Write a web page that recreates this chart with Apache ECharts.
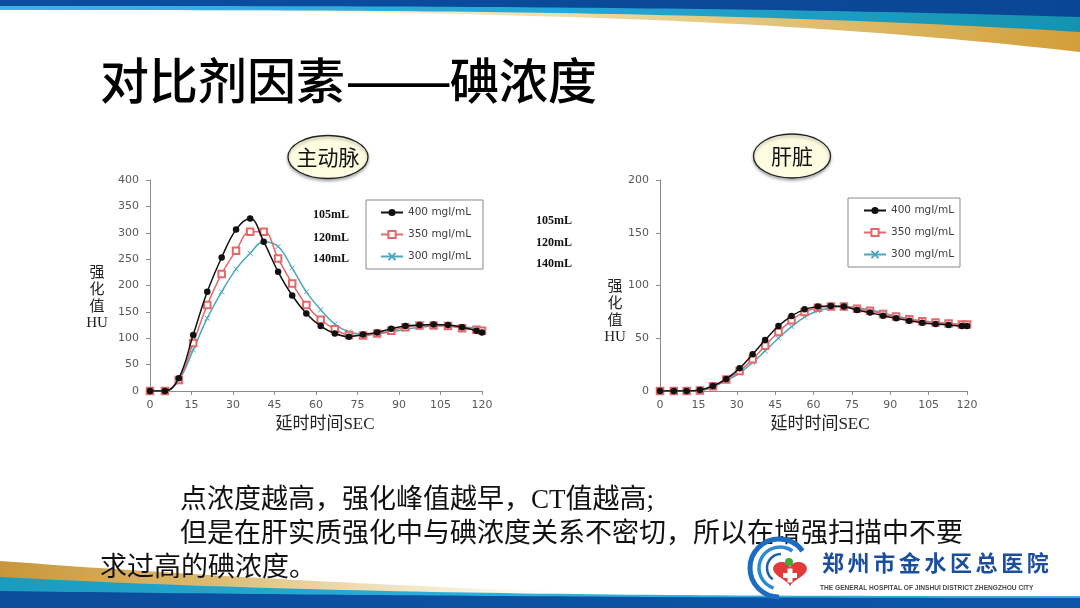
<!DOCTYPE html>
<html>
<head>
<meta charset="utf-8">
<script src="https://cdn.jsdelivr.net/npm/echarts@6/dist/echarts.min.js"></script>
<style>
  html, body { margin: 0; padding: 0; background: #fff; }
  #main { width: 1080px; height: 608px; }
</style>
</head>
<body>
<div id="main"></div>
<script>
// 延时时间 (秒) —— 两张图共用
const timeSec = [0, 5.4, 10.4, 15.6, 20.7, 25.9, 31.1, 36.2, 41.1, 46.3, 51.4, 56.5, 61.7, 66.8, 71.9, 77, 82.1, 87.2, 92.3, 97.4, 102.5, 107.7, 112.8, 118, 120]
const seriesNames = ['400 mgI/mL', '350 mgI/mL', '300 mgI/mL']
const doseLabels = ['105mL', '120mL', '140mL']

// 主动脉强化值 HU
const aorta400 = [0, 0, 24, 106, 188, 253, 306, 327, 283, 226, 181, 147, 123, 109, 103, 107, 111, 118, 123, 125, 126, 125, 121, 114, 111]
const aorta350 = [0, 0, 21, 91, 163, 222, 266, 302, 302, 251, 204, 163, 135, 117, 106, 105, 109, 114, 121, 124, 124, 123, 119, 116, 114]
const aorta300 = [0, 0, 20, 78, 138, 188, 231, 261, 283, 274, 233, 188, 154, 127, 112, 108, 109, 112, 117, 121, 123, 124, 122, 119, 117]

// 肝脏强化值 HU
const liver400 = [0, 0, 0, 1, 4.7, 11.4, 21.5, 34.8, 48.3, 61.6, 71, 77.4, 80, 80.6, 80, 76.8, 74.3, 71.4, 68.9, 66.7, 64.8, 63.5, 62.6, 61.6, 61.6]
const liver350 = [0, 0, 0, 0.5, 4.5, 11, 19, 30, 43, 56, 67, 75, 79, 80, 80, 78, 76, 73, 70.5, 68, 66, 65, 64, 63, 63]
const liver300 = [0, 0, 0, 0.3, 4, 10, 17, 27, 38, 50, 61, 70, 76, 79, 80, 79, 77, 74, 71, 68.5, 66.5, 65, 64, 63, 62.5]

const chart = echarts.init(document.getElementById('main'))

const CJK = '"Noto Sans CJK SC", sans-serif'
const SERIF_CJK = '"Liberation Serif", "Noto Sans CJK SC", serif'
const AXIS_FONT = '"DejaVu Sans", sans-serif'

const styles = [
  { color: '#111111', symbol: 'circle', symbolSize: 6.5, borderWidth: 0 },
  { color: '#E4686A', symbol: 'emptyRect', symbolSize: 6.5, borderWidth: 1 },
  { color: '#4AA7BD', symbol: 'path://M0,0L10,10M0,10L10,0', symbolSize: 5, borderWidth: 1 }
]

const toPairs = arr => timeSec.map((t, i) => [t, arr[i]])

const makeSeries = (idx, arr, gridIdx) => ({
  name: seriesNames[idx],
  type: 'line',
  xAxisIndex: gridIdx,
  yAxisIndex: gridIdx,
  data: toPairs(arr),
  smooth: 0.4,
  symbol: styles[idx].symbol,
  symbolSize: styles[idx].symbolSize,
  lineStyle: { color: styles[idx].color, width: 1.5 },
  itemStyle: { color: styles[idx].color, borderColor: styles[idx].color, borderWidth: styles[idx].borderWidth },
  z: 10 - idx
})

const axisCommon = {
  axisLine: { show: true, lineStyle: { color: '#8c8c8c', width: 1 } },
  axisTick: { show: true, length: 4, lineStyle: { color: '#8c8c8c' } },
  splitLine: { show: false },
  axisLabel: { color: '#595959', fontSize: 11, fontFamily: AXIS_FONT }
}

const xAxisOf = (gridIdx, pad) => ({
  ...axisCommon,
  type: 'value',
  gridIndex: gridIdx,
  min: 0, max: 120, interval: 15,
  axisLabel: { ...axisCommon.axisLabel, margin: 9 },
  name: '延时时间SEC',
  nameLocation: 'middle',
  nameGap: 25,
  nameTextStyle: { fontSize: 17, color: '#222', fontFamily: SERIF_CJK, padding: [0, 0, 0, pad] }
})

const yAxisOf = (gridIdx, max) => ({
  ...axisCommon,
  type: 'value',
  gridIndex: gridIdx,
  min: 0, max: max, interval: 50,
  axisLabel: { ...axisCommon.axisLabel, margin: 11 }
})

const legendOf = (left, top, padding) => ({
  data: seriesNames,
  orient: 'vertical',
  left: left, top: top,
  padding: padding,
  itemGap: 9,
  itemWidth: 22,
  itemHeight: 9,
  borderColor: '#8a8a8a',
  borderWidth: 1,
  backgroundColor: '#fff',
  textStyle: { fontSize: 10.5, color: '#404040', fontFamily: AXIS_FONT, lineHeight: 13 }
})

// 装饰条带（页眉、页脚）
const band = (topFn, botFn) => {
  const pts = []
  for (let i = 0; i <= 60; i++) pts.push([1080 * i / 60, topFn(i / 60)])
  for (let i = 60; i >= 0; i--) pts.push([1080 * i / 60, botFn(i / 60)])
  return pts
}
const grad = stops => new echarts.graphic.LinearGradient(0, 0, 1, 0, stops.map(s => ({ offset: s[0], color: s[1] })))

const heartPts = (() => {
  const pts = []
  for (let i = 0; i < 60; i++) {
    const a = Math.PI * 2 * i / 60
    const x = 16 * Math.pow(Math.sin(a), 3)
    const y = -(13 * Math.cos(a) - 5 * Math.cos(2 * a) - 2 * Math.cos(3 * a) - Math.cos(4 * a))
    pts.push([790 + x * 1.06, 572 + y * 0.85])
  }
  return pts
})()

const hospitalName = '郑州市金水区总医院'.split('')
const titleParts = [['对比剂因素', 100, 1], ['——', 345, 1.3], ['碘浓度', 450, 1]]

const graphics = [
  // 页眉
  { type: 'polygon', silent: true, shape: { points: band(() => 0, t => 11 + 41 * t * t * t) },
    style: { fill: grad([[0, 'rgba(255,255,255,0)'], [0.3, 'rgba(246,236,200,0.7)'], [0.6, '#E8D291'], [1, '#D29E38']]) } },
  { type: 'polygon', silent: true, shape: { points: band(() => 0, t => 10 + 22 * t * t * t) },
    style: { fill: grad([[0, '#3BB3E8'], [0.5, '#27A8D6'], [1, '#1593AE']]) } },
  { type: 'polygon', silent: true, shape: { points: band(() => 0, t => 6 + 11 * t * t * t) },
    style: { fill: grad([[0, '#0B4E9E'], [1, '#0A4696']]) } },
  // 页脚
  { type: 'polygon', silent: true, shape: { points: band(t => 561 + 40 * (1 - (1 - t) * (1 - t)), () => 608) },
    style: { fill: grad([[0, '#C8963A'], [0.2, '#DDBB72'], [0.42, 'rgba(240,225,180,0.6)'], [0.56, 'rgba(255,255,255,0)'], [1, 'rgba(255,255,255,0)']]) } },
  { type: 'polygon', silent: true, shape: { points: band(t => 577 + 19 * (1 - Math.pow(1 - t, 3)), () => 608) },
    style: { fill: grad([[0, '#1A9CC0'], [0.5, '#2FB0DE'], [1, '#3AA8DA']]) } },
  { type: 'polygon', silent: true, shape: { points: band(t => 591 + 7 * (1 - (1 - t) * (1 - t)), () => 608) },
    style: { fill: grad([[0, '#0C4C9C'], [1, '#0B56A8']]) } },

  // 标题
  ...titleParts.map(p => ({ type: 'text', x: p[1], y: 80, scaleX: p[2],
    style: { text: p[0], font: '500 49px ' + CJK, fill: '#000', textVerticalAlign: 'middle' } })),

  // 椭圆标签
  { type: 'ellipse', shape: { cx: 328, cy: 157, rx: 40, ry: 21.5 },
    style: { fill: '#FDFBE0', stroke: '#222', lineWidth: 1.3, shadowBlur: 3, shadowOffsetY: 2, shadowColor: 'rgba(0,0,0,0.3)' } },
  { type: 'text', x: 328, y: 157, style: { text: '主动脉', font: '21px ' + CJK, fill: '#111', textAlign: 'center', textVerticalAlign: 'middle' } },
  { type: 'ellipse', shape: { cx: 792, cy: 156, rx: 38.5, ry: 22 },
    style: { fill: '#FDFBE0', stroke: '#222', lineWidth: 1.3, shadowBlur: 3, shadowOffsetY: 2, shadowColor: 'rgba(0,0,0,0.3)' } },
  { type: 'text', x: 792, y: 156, style: { text: '肝脏', font: '21px ' + CJK, fill: '#111', textAlign: 'center', textVerticalAlign: 'middle' } },

  // 纵轴标题
  { type: 'text', x: 97, y: 265, style: { text: '强\n化\n值\nHU', font: '15px ' + SERIF_CJK, lineHeight: 16.7, fill: '#222', textAlign: 'center' } },
  { type: 'text', x: 615, y: 279, style: { text: '强\n化\n值\nHU', font: '15px ' + SERIF_CJK, lineHeight: 16.7, fill: '#222', textAlign: 'center' } },

  // 用量标注
  ...doseLabels.map((s, i) => ({ type: 'text', x: 313, y: [215, 238, 259][i],
    style: { text: s, font: 'bold 12px "Liberation Serif", serif', fill: '#111', textVerticalAlign: 'middle' } })),
  ...doseLabels.map((s, i) => ({ type: 'text', x: 536, y: [221, 243, 264][i],
    style: { text: s, font: 'bold 12px "Liberation Serif", serif', fill: '#111', textVerticalAlign: 'middle' } })),

  // 正文
  { type: 'text', x: 180, y: 501, style: { text: '点浓度越高，强化峰值越早，CT值越高;', font: '27px ' + SERIF_CJK, fill: '#111', textVerticalAlign: 'middle' } },
  { type: 'text', x: 180, y: 535, style: { text: '但是在肝实质强化中与碘浓度关系不密切，所以在增强扫描中不要', font: '27px ' + SERIF_CJK, fill: '#111', textVerticalAlign: 'middle' } },
  { type: 'text', x: 100, y: 569, style: { text: '求过高的碘浓度。', font: '27px ' + SERIF_CJK, fill: '#111', textVerticalAlign: 'middle' } },

  // 医院标志
  { type: 'arc', shape: { cx: 779, cy: 568, r: 29, startAngle: Math.PI * 0.5, endAngle: Math.PI * 1.8 }, style: { stroke: '#1D6CC0', lineWidth: 5, fill: null } },
  { type: 'arc', shape: { cx: 780, cy: 568, r: 21, startAngle: Math.PI * 0.6, endAngle: Math.PI * 1.7 }, style: { stroke: '#2C8AD4', lineWidth: 3.5, fill: null } },
  { type: 'arc', shape: { cx: 781, cy: 568, r: 14, startAngle: Math.PI * 0.7, endAngle: Math.PI * 1.5 }, style: { stroke: '#1A5FAF', lineWidth: 2.5, fill: null } },
  { type: 'polygon', shape: { points: heartPts }, style: { fill: '#E23A3A' } },
  { type: 'circle', shape: { cx: 789, cy: 562, r: 4 }, style: { fill: '#3DAA3A' } },
  { type: 'rect', shape: { x: 783, y: 573, width: 14, height: 5 }, style: { fill: '#fff' } },
  { type: 'rect', shape: { x: 787.5, y: 568.5, width: 5, height: 14 }, style: { fill: '#fff' } },
  ...hospitalName.map((c, i) => ({ type: 'text', x: 822 + i * 25.6, y: 563,
    style: { text: c, font: 'bold 22px ' + CJK, fill: '#1C4E9E', textVerticalAlign: 'middle' } })),
  { type: 'text', x: 820, y: 588, style: { text: 'THE GENERAL HOSPITAL OF JINSHUI DISTRICT ZHENGZHOU CITY', font: 'bold 6.6px "Liberation Sans", sans-serif', fill: '#4a4a4a', textVerticalAlign: 'middle' } }
]

chart.setOption({
  backgroundColor: '#fff',
  animation: false,
  grid: [
    { left: 150, top: 180, width: 332, height: 211 },
    { left: 660, top: 180, width: 307, height: 211 }
  ],
  xAxis: [xAxisOf(0, 18), xAxisOf(1, 13)],
  yAxis: [yAxisOf(0, 400), yAxisOf(1, 200)],
  legend: [
    legendOf(366, 200, [6, 12, 6, 14]),
    legendOf(848, 198, [6, 6, 6, 15])
  ],
  series: [
    makeSeries(0, aorta400, 0), makeSeries(1, aorta350, 0), makeSeries(2, aorta300, 0),
    makeSeries(0, liver400, 1), makeSeries(1, liver350, 1), makeSeries(2, liver300, 1)
  ],
  graphic: graphics
})
</script>
</body>
</html>
